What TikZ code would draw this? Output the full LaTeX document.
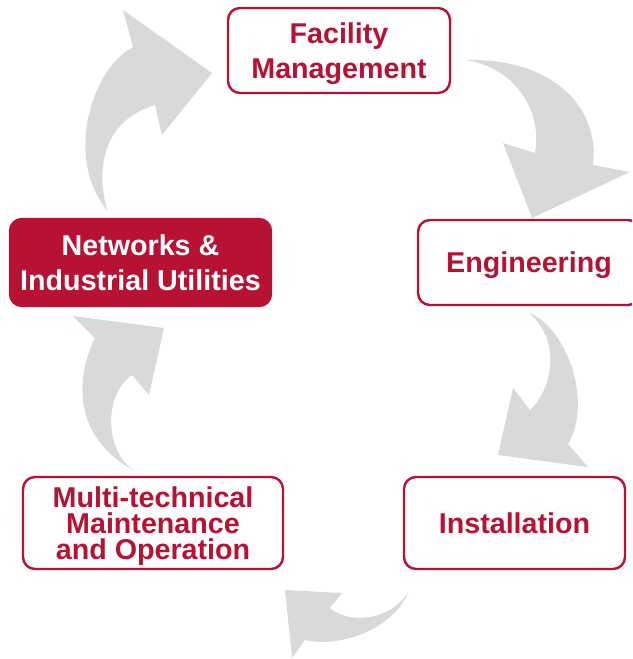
\documentclass[tikz,border=0pt]{standalone}
\usepackage{fontspec}
\setmainfont{Liberation Sans}
\definecolor{boxred}{HTML}{B71234}
\definecolor{arrowgray}{HTML}{D9D9D9}

\begin{document}
\begin{tikzpicture}[x=0.75pt,y=-0.75pt,
  box/.style={draw=boxred, line width=1.8pt, rounded corners=9pt, text=boxred,
    font=\bfseries\fontsize{21.5}{26}\selectfont, align=center, inner sep=0pt, text depth=0pt},
  boxfull/.style={box, fill=boxred, text=white},
  turn/.style={fill=arrowgray, draw=none}]
\useasboundingbox (0,0) rectangle (632,659);
\clip (0,0) rectangle (632,659);
% curved arrows
\fill[turn] (212,73) -- (123,10) -- (133,47) .. controls (90,70) and (65,160) .. (107,210)
  .. controls (95,165) and (105,120) .. (155,105) -- (162,135) -- cycle;
\fill[turn] (467,60) .. controls (550,58) and (600,105) .. (593,165) -- (630,172) -- (532,218)
  -- (503,143) -- (535,153) .. controls (542,115) and (520,70) .. (467,60) -- cycle;
\fill[turn] (528,312) .. controls (570,330) and (592,405) .. (568,444) -- (588,467) -- (498,455)
  -- (513,388) -- (530,410) .. controls (553,388) and (562,340) .. (528,312) -- cycle;
\fill[turn] (408,593) .. controls (392,630) and (340,648) .. (305,640) -- (292,658) -- (285,590)
  -- (342,593) -- (330,608) .. controls (350,625) and (390,620) .. (408,593) -- cycle;
\fill[turn] (164,328) -- (73,316) -- (95,338) .. controls (72,385) and (78,440) .. (133,470)
  .. controls (105,450) and (103,395) .. (132,375) -- (149,395) -- cycle;
% boxes
\node[box, minimum width=166.5pt, minimum height=63.75pt] (facility) at (339,50.5) {Facility\\Management};
\node[box, minimum width=166.5pt, minimum height=63.75pt] (engineering) at (529,262.5) {Engineering};
\node[box, minimum width=165.75pt, minimum height=69pt] (installation) at (514.5,523) {Installation};
\node[box, minimum width=195pt, minimum height=69pt, font=\bfseries\fontsize{21.5}{19.5}\selectfont] (maintenance) at (153,523) {Multi-technical\\Maintenance\\and Operation};
\node[boxfull, minimum width=195.75pt, minimum height=65.25pt] (networks) at (140.5,262.5) {Networks \&\\Industrial Utilities};
\end{tikzpicture}
\end{document}
